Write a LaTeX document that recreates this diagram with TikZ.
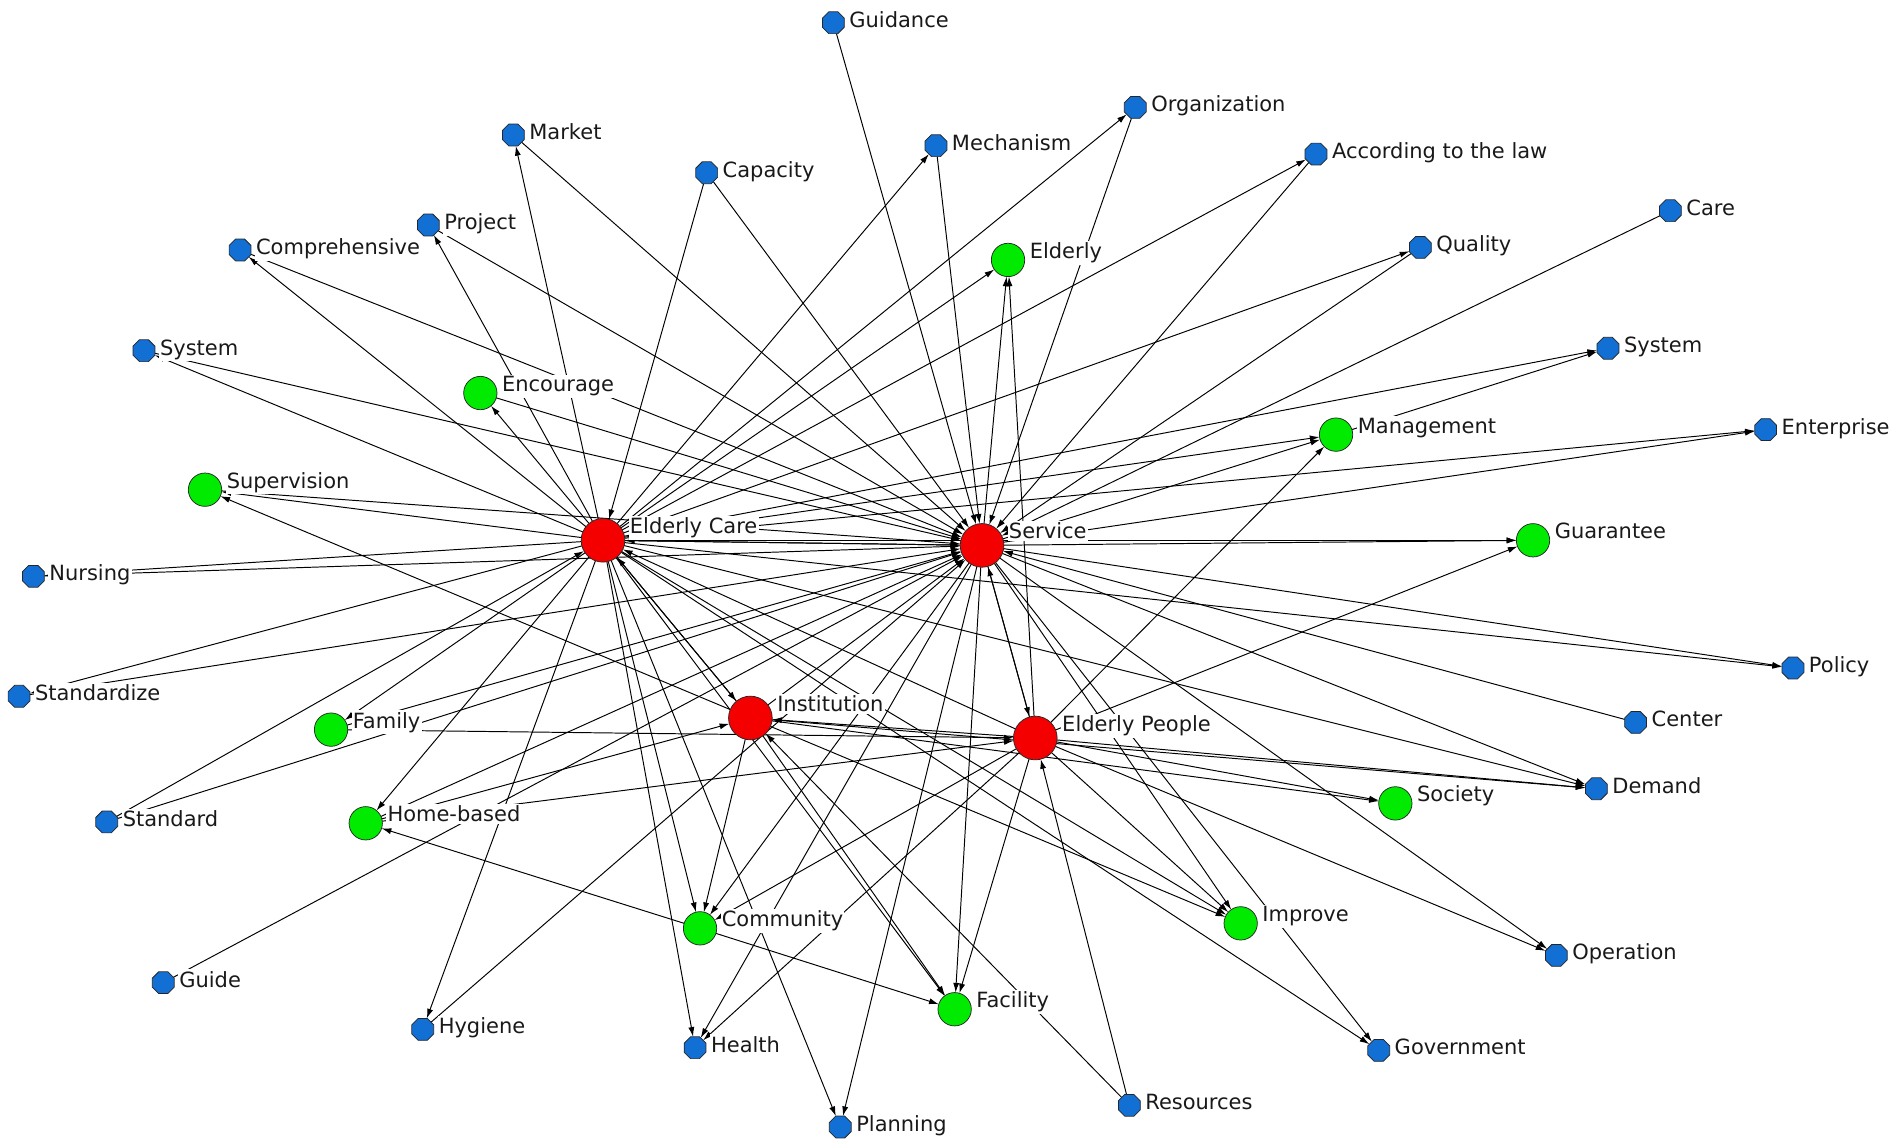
\documentclass[tikz,border=0pt]{standalone}
\usepackage{fontspec}
\setmainfont{DejaVu Sans}
\usetikzlibrary{arrows.meta,calc,shapes.geometric}
\pgfdeclarelayer{bglayer}
\pgfdeclarelayer{edgelayer}
\pgfsetlayers{bglayer,edgelayer,main}
\definecolor{nblue}{RGB}{18,112,212}
\definecolor{ngreen}{RGB}{0,235,0}
\definecolor{nred}{RGB}{245,0,0}
\tikzset{
  nbase/.style={draw=black!85, line width=0.6pt, inner sep=0pt, outer sep=0pt},
  bnode/.style={nbase, regular polygon, regular polygon sides=8, minimum size=19.5pt, fill=nblue},
  gnode/.style={nbase, circle, minimum size=27.5pt, fill=ngreen},
  rnode/.style={nbase, circle, minimum size=36pt, fill=nred},
  lbl/.style={fill=white, inner xsep=1pt, inner ysep=1.5pt, font=\fontsize{17.3}{20}\selectfont, anchor=base west, text=black!90},
  edge/.style={-{Latex[length=8pt,width=5pt]}, line width=0.8pt, black},
}
\newcommand{\vtx}[5]{%
  \node[#2] (#1) at (#3,#4) {};
  \node[lbl] (#1-t) at ($(#1.east |- #1.north)+(3pt,-12.6pt)$) {#5};
}
\begin{document}
\begin{tikzpicture}[x=1pt,y=-1pt]
\begin{pgfonlayer}{bglayer}
\fill[white] (0,0) rectangle (1568,946);
\end{pgfonlayer}
\useasboundingbox (0,0) rectangle (1568,946);
% hubs
\vtx{EC}{rnode}{497.1}{445.4}{Elderly Care}
\vtx{SV}{rnode}{809.6}{449.6}{Service}
\vtx{IN}{rnode}{618.6}{591.9}{Institution}
\vtx{EP}{rnode}{853.5}{608.4}{Elderly People}
% green
\vtx{ELD}{gnode}{831}{214.3}{Elderly}
\vtx{ENC}{gnode}{396}{324}{Encourage}
\vtx{SUP}{gnode}{169}{403.7}{Supervision}
\vtx{MGT}{gnode}{1101.4}{358.3}{Management}
\vtx{GUA}{gnode}{1263.8}{445.4}{Guarantee}
\vtx{FAM}{gnode}{272.9}{601.5}{Family}
\vtx{HOM}{gnode}{301.5}{678.7}{Home-based}
\vtx{SOC}{gnode}{1150.3}{662.3}{Society}
\vtx{IMP}{gnode}{1022.8}{761.2}{Improve}
\vtx{COM}{gnode}{577.1}{765.3}{Community}
\vtx{FAC}{gnode}{787}{832}{Facility}
% blue
\vtx{GDC}{bnode}{687}{18.7}{Guidance}
\vtx{ORG}{bnode}{935.9}{88.5}{Organization}
\vtx{MKT}{bnode}{423.2}{111.3}{Market}
\vtx{MEC}{bnode}{771.6}{120.1}{Mechanism}
\vtx{LAW}{bnode}{1084.9}{127}{According to the law}
\vtx{CAP}{bnode}{582.6}{142.4}{Capacity}
\vtx{PRJ}{bnode}{353.1}{185.5}{Project}
\vtx{CARE}{bnode}{1377}{173.7}{Care}
\vtx{CMP}{bnode}{197.9}{206.1}{Comprehensive}
\vtx{QLT}{bnode}{1170.9}{203.9}{Quality}
\vtx{SYL}{bnode}{118.7}{289.1}{System}
\vtx{SYR}{bnode}{1325.6}{287.1}{System}
\vtx{ENT}{bnode}{1455.6}{354.2}{Enterprise}
\vtx{NUR}{bnode}{27.5}{475.1}{Nursing}
\vtx{STZ}{bnode}{15.7}{574}{Standardize}
\vtx{POL}{bnode}{1478.1}{550.7}{Policy}
\vtx{CEN}{bnode}{1348.4}{595.5}{Center}
\vtx{DEM}{bnode}{1316}{650.2}{Demand}
\vtx{STD}{bnode}{88}{677.6}{Standard}
\vtx{GDE}{bnode}{134.6}{810.1}{Guide}
\vtx{OPR}{bnode}{1283}{787.6}{Operation}
\vtx{HYG}{bnode}{348.5}{848.6}{Hygiene}
\vtx{HLT}{bnode}{573}{863.7}{Health}
\vtx{GOV}{bnode}{1136.6}{865.9}{Government}
\vtx{RES}{bnode}{931}{911.2}{Resources}
\vtx{PLN}{bnode}{692.7}{929.1}{Planning}
\begin{pgfonlayer}{edgelayer}
\foreach \a/\b in {EC/CMP, CMP/SV, EC/PRJ, PRJ/SV, EC/MKT, MKT/SV, CAP/EC, CAP/SV,
  EC/MEC, MEC/SV, GDC/SV, EC/ORG, ORG/SV, EC/LAW, LAW/SV, EC/ELD, SV/ELD, EP/ELD,
  EC/QLT, QLT/SV, CARE/SV, EC/SYR, MGT/SYR, EC/ENT, SV/ENT, EC/GUA, SV/GUA, EP/GUA,
  EC/POL, SV/POL, CEN/SV, EC/DEM, SV/DEM, IN/DEM, EP/DEM, SV/OPR, EP/OPR,
  EC/SYL, SYL/SV, EC/NUR, NUR/SV, EC/STZ, STZ/SV, STD/EC, STD/SV, GDE/SV,
  EC/ENC, ENC/SV, IN/SUP, EC/SUP, SUP/SV, EC/FAM, FAM/SV, FAM/EP,
  EC/HOM, COM/HOM, HOM/SV, HOM/IN, HOM/EP, EC/HYG, HYG/SV,
  EC/HLT, SV/HLT, EP/HLT, EC/PLN, SV/PLN, EC/COM, IN/COM, SV/COM, EP/COM,
  COM/FAC, EC/FAC, IN/FAC, SV/FAC, EP/FAC, RES/IN, RES/EP,
  IN/IMP, EC/IMP, EP/IMP, SV/IMP, EC/GOV, SV/GOV, IN/SOC, EP/SOC,
  SV/MGT, EC/MGT, EP/MGT, EC/IN, IN/EC, EP/IN, EP/EC, EC/SV, SV/EC, EP/SV, SV/EP, IN/SV}
  \draw[edge] (\a) -- (\b);
\end{pgfonlayer}
\end{tikzpicture}
\end{document}
